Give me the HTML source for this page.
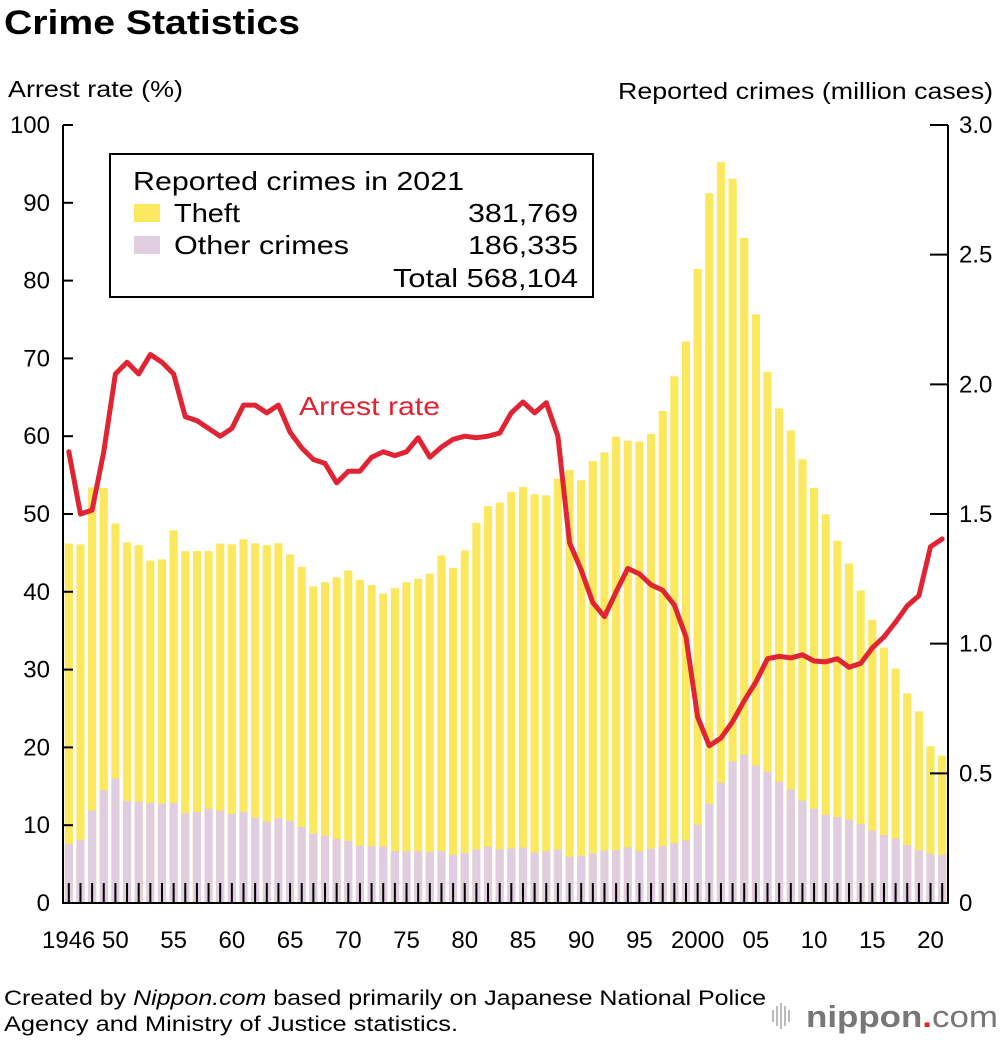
<!DOCTYPE html>
<html><head><meta charset="utf-8"><style>
body{margin:0;background:#fff;font-family:"Liberation Sans",sans-serif;}
svg{display:block}
</style></head><body>
<svg id="chart" width="1000" height="1040" xmlns="http://www.w3.org/2000/svg" font-family="Liberation Sans, sans-serif">
<text x="4" y="34" font-size="34" font-weight="bold" textLength="296" lengthAdjust="spacingAndGlyphs">Crime Statistics</text>
<text x="8" y="97" font-size="23" textLength="175" lengthAdjust="spacingAndGlyphs">Arrest rate (%)</text>
<text x="618" y="99" font-size="23" textLength="375" lengthAdjust="spacingAndGlyphs">Reported crimes (million cases)</text>
<g id="bars"></g>
<g id="axes"></g>
<g id="line"></g>
<text x="299" y="415" font-size="26" fill="#e02433" textLength="141" lengthAdjust="spacingAndGlyphs">Arrest rate</text>
<g>
<rect x="110" y="154" width="483" height="143" fill="#fff" stroke="#000" stroke-width="2"/>
<text x="133" y="190" font-size="26" textLength="331" lengthAdjust="spacingAndGlyphs">Reported crimes in 2021</text>
<rect x="134" y="204" width="26" height="18" fill="#fbe85f"/>
<text x="174" y="222" font-size="26" textLength="66" lengthAdjust="spacingAndGlyphs">Theft</text>
<text x="468" y="222" font-size="26" textLength="110" lengthAdjust="spacingAndGlyphs">381,769</text>
<rect x="134" y="236" width="26" height="18" fill="#e0cde0"/>
<text x="174" y="254" font-size="26" textLength="175" lengthAdjust="spacingAndGlyphs">Other crimes</text>
<text x="468" y="254" font-size="26" textLength="110" lengthAdjust="spacingAndGlyphs">186,335</text>
<text x="393" y="287" font-size="26" textLength="185" lengthAdjust="spacingAndGlyphs">Total 568,104</text>
</g>
<text x="4" y="1005" font-size="21" textLength="762" lengthAdjust="spacingAndGlyphs">Created by <tspan font-style="italic">Nippon.com</tspan> based primarily on Japanese National Police</text>
<text x="4" y="1031" font-size="21" textLength="454" lengthAdjust="spacingAndGlyphs">Agency and Ministry of Justice statistics.</text>
<g>
<g stroke="#bbb" stroke-width="2"><line x1="773" y1="1010" x2="773" y2="1022"/><line x1="777" y1="1006" x2="777" y2="1026"/><line x1="781" y1="1003" x2="781" y2="1029"/><line x1="785" y1="1006" x2="785" y2="1026"/><line x1="789" y1="1010" x2="789" y2="1022"/></g>
<text x="806" y="1027" font-size="31" fill="#777" font-weight="bold" textLength="192" lengthAdjust="spacingAndGlyphs">nippon<tspan fill="#e02433">.</tspan><tspan font-weight="normal">com</tspan></text>
</g>
</svg>
<script>
const years=[];for(let y=1946;y<=2021;y++)years.push(y);
const totalCrimes=[1.386,1.383,1.602,1.60,1.464,1.39,1.38,1.32,1.325,1.437,1.357,1.357,1.357,1.386,1.383,1.403,1.387,1.38,1.387,1.344,1.296,1.221,1.237,1.256,1.282,1.246,1.226,1.193,1.214,1.237,1.25,1.27,1.34,1.292,1.36,1.466,1.53,1.544,1.585,1.604,1.576,1.572,1.636,1.67,1.63,1.704,1.738,1.798,1.783,1.779,1.809,1.897,2.031,2.165,2.445,2.737,2.857,2.793,2.565,2.27,2.048,1.907,1.822,1.711,1.6,1.499,1.397,1.309,1.205,1.092,0.985,0.904,0.808,0.739,0.605,0.568];
const otherCrimes=[0.229,0.243,0.356,0.434,0.48,0.393,0.39,0.386,0.383,0.385,0.347,0.351,0.364,0.356,0.343,0.351,0.329,0.314,0.327,0.317,0.293,0.267,0.26,0.247,0.24,0.22,0.219,0.217,0.2,0.2,0.2,0.197,0.2,0.184,0.194,0.206,0.216,0.207,0.21,0.214,0.195,0.2,0.206,0.178,0.182,0.191,0.202,0.204,0.214,0.2,0.21,0.219,0.231,0.242,0.302,0.383,0.464,0.545,0.571,0.53,0.506,0.468,0.438,0.395,0.363,0.34,0.332,0.321,0.304,0.28,0.261,0.248,0.223,0.204,0.19,0.186];
const arrestRate=[58,50,50.5,58,68,69.5,68,70.5,69.5,68,62.5,62,61,60,61,64,64,63,64,60.5,58.5,57,56.5,54,55.5,55.5,57.3,58,57.5,58,59.8,57.3,58.6,59.6,60,59.8,60,60.4,63,64.4,63,64.3,60,46.3,42.8,38.6,36.8,40,43,42.3,40.9,40.2,38.3,34.2,23.9,20.2,21.2,23.3,26,28.4,31.4,31.7,31.5,31.9,31.1,31,31.4,30.3,30.8,32.8,34.2,36.1,38.2,39.5,45.8,46.8];
const leftTicks=[0,10,20,30,40,50,60,70,80,90,100];
const rightTicks=["0","0.5","1.0","1.5","2.0","2.5","3.0"];
const xLabels=["1946","50","55","60","65","70","75","80","85","90","95","2000","05","10","15","20"];
const xLabelYears=[1946,1950,1955,1960,1965,1970,1975,1980,1985,1990,1995,2000,2005,2010,2015,2020];

const X0=63,X1=948,Y0=903,Y1=125;
const step=(X1-X0)/years.length;
const xc=yr=>X0+step*(yr-1946)+step/2;
const yL=v=>Y0-(Y0-Y1)*v/100;
const yR=v=>Y0-(Y0-Y1)*v/3;
const NS="http://www.w3.org/2000/svg";
function mk(tag,attrs,parent){const e=document.createElementNS(NS,tag);for(const k in attrs)e.setAttribute(k,attrs[k]);parent.appendChild(e);return e;}
const bars=document.getElementById('bars'),axes=document.getElementById('axes'),line=document.getElementById('line');
const bw=step*0.7;
years.forEach((yr,i)=>{
  const cx=xc(yr);
  const t=mk('rect',{x:cx-bw/2,y:yR(totalCrimes[i]),width:bw,height:Y0-yR(totalCrimes[i]),fill:'#fbe85f'},bars);
  
  
  const o=mk('rect',{x:cx-bw/2,y:yR(otherCrimes[i]),width:bw,height:Y0-yR(otherCrimes[i]),fill:'#e0cde0'},bars);
  
  
  const tk=mk('line',{x1:cx,x2:cx,y1:Y0-20,y2:Y0,stroke:'#000','stroke-width':2},axes);
  
  
});
mk('line',{x1:X0,x2:X0,y1:Y1,y2:Y0+1,stroke:'#000','stroke-width':2},axes);
mk('line',{x1:X1,x2:X1,y1:Y1,y2:Y0+1,stroke:'#000','stroke-width':2},axes);
mk('line',{x1:X0,x2:X1,y1:Y0,y2:Y0,stroke:'#000','stroke-width':2},axes);
leftTicks.forEach(v=>{
  mk('line',{x1:X0,x2:X0+10,y1:yL(v),y2:yL(v),stroke:'#000','stroke-width':2},axes);
  const t=mk('text',{x:50,y:yL(v)+8,'font-size':24,'text-anchor':'end'},axes);t.textContent=v;
  
  
});
rightTicks.forEach(s=>{
  const v=parseFloat(s);
  mk('line',{x1:X1-18,x2:X1,y1:yR(v),y2:yR(v),stroke:'#000','stroke-width':2},axes);
  const t=mk('text',{x:959,y:yR(v)+8,'font-size':24},axes);t.textContent=s;
  
  
});
xLabels.forEach((s,i)=>{
  let x=xc(xLabelYears[i]);
  const t=mk('text',{x:x,y:948,'font-size':24,'text-anchor':i==0?'start':'middle'},axes);
  if(i==0)t.setAttribute('x',42);
  t.textContent=s;
  
  
});
const pts=years.map((yr,i)=>xc(yr)+','+yL(arrestRate[i])).join(' ');
const pl=mk('polyline',{points:pts,fill:'none',stroke:'#e02433','stroke-width':5,'stroke-linejoin':'round','stroke-linecap':'round'},line);


</script>
</body></html>
